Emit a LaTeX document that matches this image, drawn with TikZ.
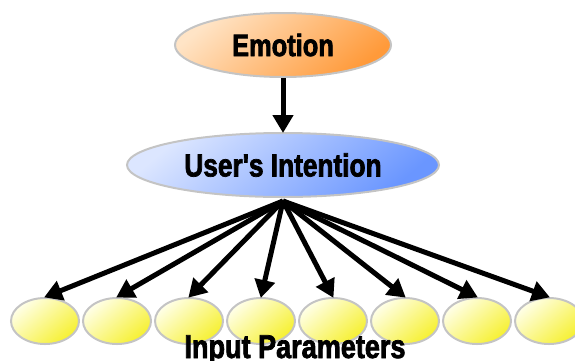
\documentclass[tikz,border=0pt]{standalone}
\usepackage{fontspec}
\usetikzlibrary{shapes.geometric,arrows.meta}
\newfontfamily\headfont[FakeStretch=0.82,FakeBold=2.2]{Liberation Sans}
\definecolor{rimgray}{HTML}{C4C4C4}
\definecolor{peach}{HTML}{FFE4C6}
\definecolor{deeporange}{HTML}{FF9A3A}
\definecolor{paleblue}{HTML}{DCE6FF}
\definecolor{deepblue}{HTML}{6A96FF}
\definecolor{paleyellow}{HTML}{FFFFE8}
\definecolor{deepyellow}{HTML}{F6F030}
\tikzset{
  bubble/.style={ellipse, draw=rimgray, line width=2pt, inner sep=0pt,
    font=\headfont\bfseries},
  emotionbox/.style={bubble, minimum width=216pt, minimum height=64pt,
    top color=peach, bottom color=deeporange, shading angle=40},
  intentbox/.style={bubble, minimum width=312pt, minimum height=64pt,
    top color=paleblue, bottom color=deepblue, shading angle=40},
  parambox/.style={bubble, minimum width=68pt, minimum height=46pt,
    top color=paleyellow, bottom color=deepyellow, shading angle=40},
  flow/.style={line width=5pt, -{Triangle[length=18pt,width=20pt]}, shorten >=-1pt}
}
\begin{document}
\begin{tikzpicture}[x=1pt,y=-1pt]
  \useasboundingbox (0,0) rectangle (575,360);
  \clip (0,0) rectangle (575,360);
  % top two levels
  \node[emotionbox, font=\headfont\bfseries\fontsize{31}{31}\selectfont] (emo) at (283,45) {Emotion};
  \node[intentbox, font=\headfont\bfseries\fontsize{32}{32}\selectfont] (ui) at (283,165) {User's Intention};
  \draw[flow] (emo.south) -- (ui.north);
  % row of input parameters
  \foreach \i in {1,...,8} {
    \node[parambox] (p\i) at ({45+72*(\i-1)},321) {};
  }
  \foreach \i in {1,...,8} {
    \draw[flow] ([yshift=-3pt]ui.south) -- (p\i.north);
  }
  \node[anchor=base, font=\headfont\bfseries\fontsize{33}{33}\selectfont] (lbl) at (295,358) {Input Parameters};
\end{tikzpicture}
\end{document}
